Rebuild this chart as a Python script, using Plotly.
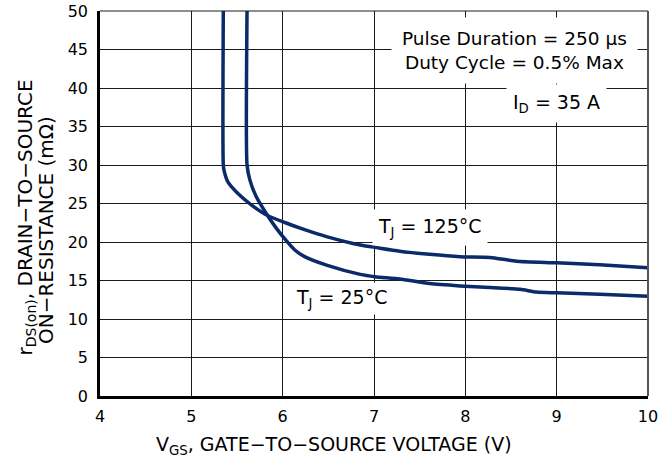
import plotly.graph_objects as go

# T_J = 125 °C curve (VGS in V, rDS(on) in mΩ)
vgs_125 = [5.35, 5.35, 5.36, 5.40, 5.51, 5.66, 5.84, 6.03, 6.24, 6.48, 6.85, 7.01, 7.28, 7.61, 7.94, 8.27, 8.56, 9.00, 9.47, 10.00]
r_125 = [50.0, 30.0, 29.2, 27.8, 26.3, 24.8, 23.4, 22.5, 21.6, 20.7, 19.6, 19.3, 18.8, 18.4, 18.1, 18.0, 17.5, 17.3, 17.05, 16.65]

# T_J = 25 °C curve
vgs_25 = [5.61, 5.61, 5.64, 5.71, 5.82, 5.93, 6.03, 6.13, 6.24, 6.48, 6.85, 7.01, 7.28, 7.61, 7.94, 8.27, 8.60, 8.78, 9.00, 9.47, 10.00]
r_25 = [50.0, 30.0, 28.1, 25.9, 23.7, 21.8, 20.3, 19.0, 18.1, 17.0, 15.8, 15.5, 15.2, 14.6, 14.3, 14.1, 13.85, 13.5, 13.4, 13.2, 12.95]

x_ticks = [4, 5, 6, 7, 8, 9, 10]
y_ticks = [0, 5, 10, 15, 20, 25, 30, 35, 40, 45, 50]

NAVY = "#0a2a6a"
FONT = "DejaVu Sans"

fig = go.Figure()
for xs, ys in ((vgs_125, r_125), (vgs_25, r_25)):
    fig.add_trace(go.Scatter(
        x=xs, y=ys, mode="lines",
        line=dict(color=NAVY, width=3.5, shape="spline", smoothing=0.6),
        hoverinfo="skip", showlegend=False,
    ))

# plot area: 100..648 x 11..396 on the 672x466 page
fig.update_layout(
    width=672, height=466,
    margin=dict(l=100, r=24, t=11, b=70),
    plot_bgcolor="white", paper_bgcolor="white",
    font=dict(family=FONT, color="black"),
    showlegend=False,
)

fig.update_xaxes(
    range=[4, 10], tickvals=x_ticks, ticktext=[str(v) for v in x_ticks],
    showgrid=True, gridcolor="#1a1a1a", gridwidth=1,
    showline=True, linecolor="black", linewidth=2.5,
    zeroline=False, ticks="", tickfont=dict(size=16, family=FONT),
    ticklabelstandoff=4, automargin=False,
)
fig.update_yaxes(
    range=[0, 50], tickvals=y_ticks, ticktext=[str(v) for v in y_ticks],
    showgrid=True, gridcolor="#1a1a1a", gridwidth=1,
    showline=True, linecolor="black", linewidth=2.5,
    zeroline=False, ticks="", tickfont=dict(size=16, family=FONT),
    ticklabelstandoff=6, automargin=False,
)

# frame: thin top border, slightly heavier grey right border
fig.add_shape(type="line", xref="paper", yref="paper", x0=0, x1=1, y0=1, y1=1,
              line=dict(color="#1a1a1a", width=1))
fig.add_shape(type="line", xref="paper", yref="paper", x0=1, x1=1, y0=0, y1=1,
              line=dict(color="#555555", width=2))

ann_font = dict(family=FONT, size=19, color="black")
fig.add_annotation(x=8.54, y=44.9, xref="x", yref="y",
                   text="Pulse Duration = 250 μs<br>Duty Cycle = 0.5% Max",
                   showarrow=False, font=dict(family=FONT, size=18.5, color="black"),
                   bgcolor="white", borderpad=10, align="center")
fig.add_annotation(x=9.0, y=38.0, xref="x", yref="y",
                   text="I<sub>D</sub> = 35 A",
                   showarrow=False, font=ann_font, bgcolor="white", borderpad=6)
fig.add_annotation(x=7.61, y=21.9, xref="x", yref="y",
                   text="T<sub>J</sub> = 125°C",
                   showarrow=False, font=ann_font, bgcolor="white", borderpad=5)
fig.add_annotation(x=6.645, y=12.7, xref="x", yref="y",
                   text="T<sub>J</sub> = 25°C",
                   showarrow=False, font=ann_font, bgcolor="white", borderpad=3)

# axis titles (paper coords relative to plot area 100..648 x 11..396)
fig.add_annotation(x=(334 - 100) / 548, y=(396 - 445) / 385, xref="paper", yref="paper",
                   text="V<sub>GS</sub>, GATE−TO−SOURCE VOLTAGE (V)",
                   showarrow=False, font=dict(family=FONT, size=19, color="black"),
                   xanchor="center", yanchor="middle")
fig.add_annotation(x=(25 - 100) / 548, y=(396 - 217.5) / 385, xref="paper", yref="paper",
                   text="r<sub>DS(on)</sub>, DRAIN−TO−SOURCE",
                   showarrow=False, textangle=-90,
                   font=dict(family=FONT, size=20, color="black"),
                   xanchor="center", yanchor="middle")
fig.add_annotation(x=(46 - 100) / 548, y=(396 - 230) / 385, xref="paper", yref="paper",
                   text="ON−RESISTANCE (mΩ)",
                   showarrow=False, textangle=-90,
                   font=dict(family=FONT, size=20, color="black"),
                   xanchor="center", yanchor="middle")

fig.write_html("out.html", config={"displayModeBar": False},
               post_script="document.body.style.margin='0px';")
